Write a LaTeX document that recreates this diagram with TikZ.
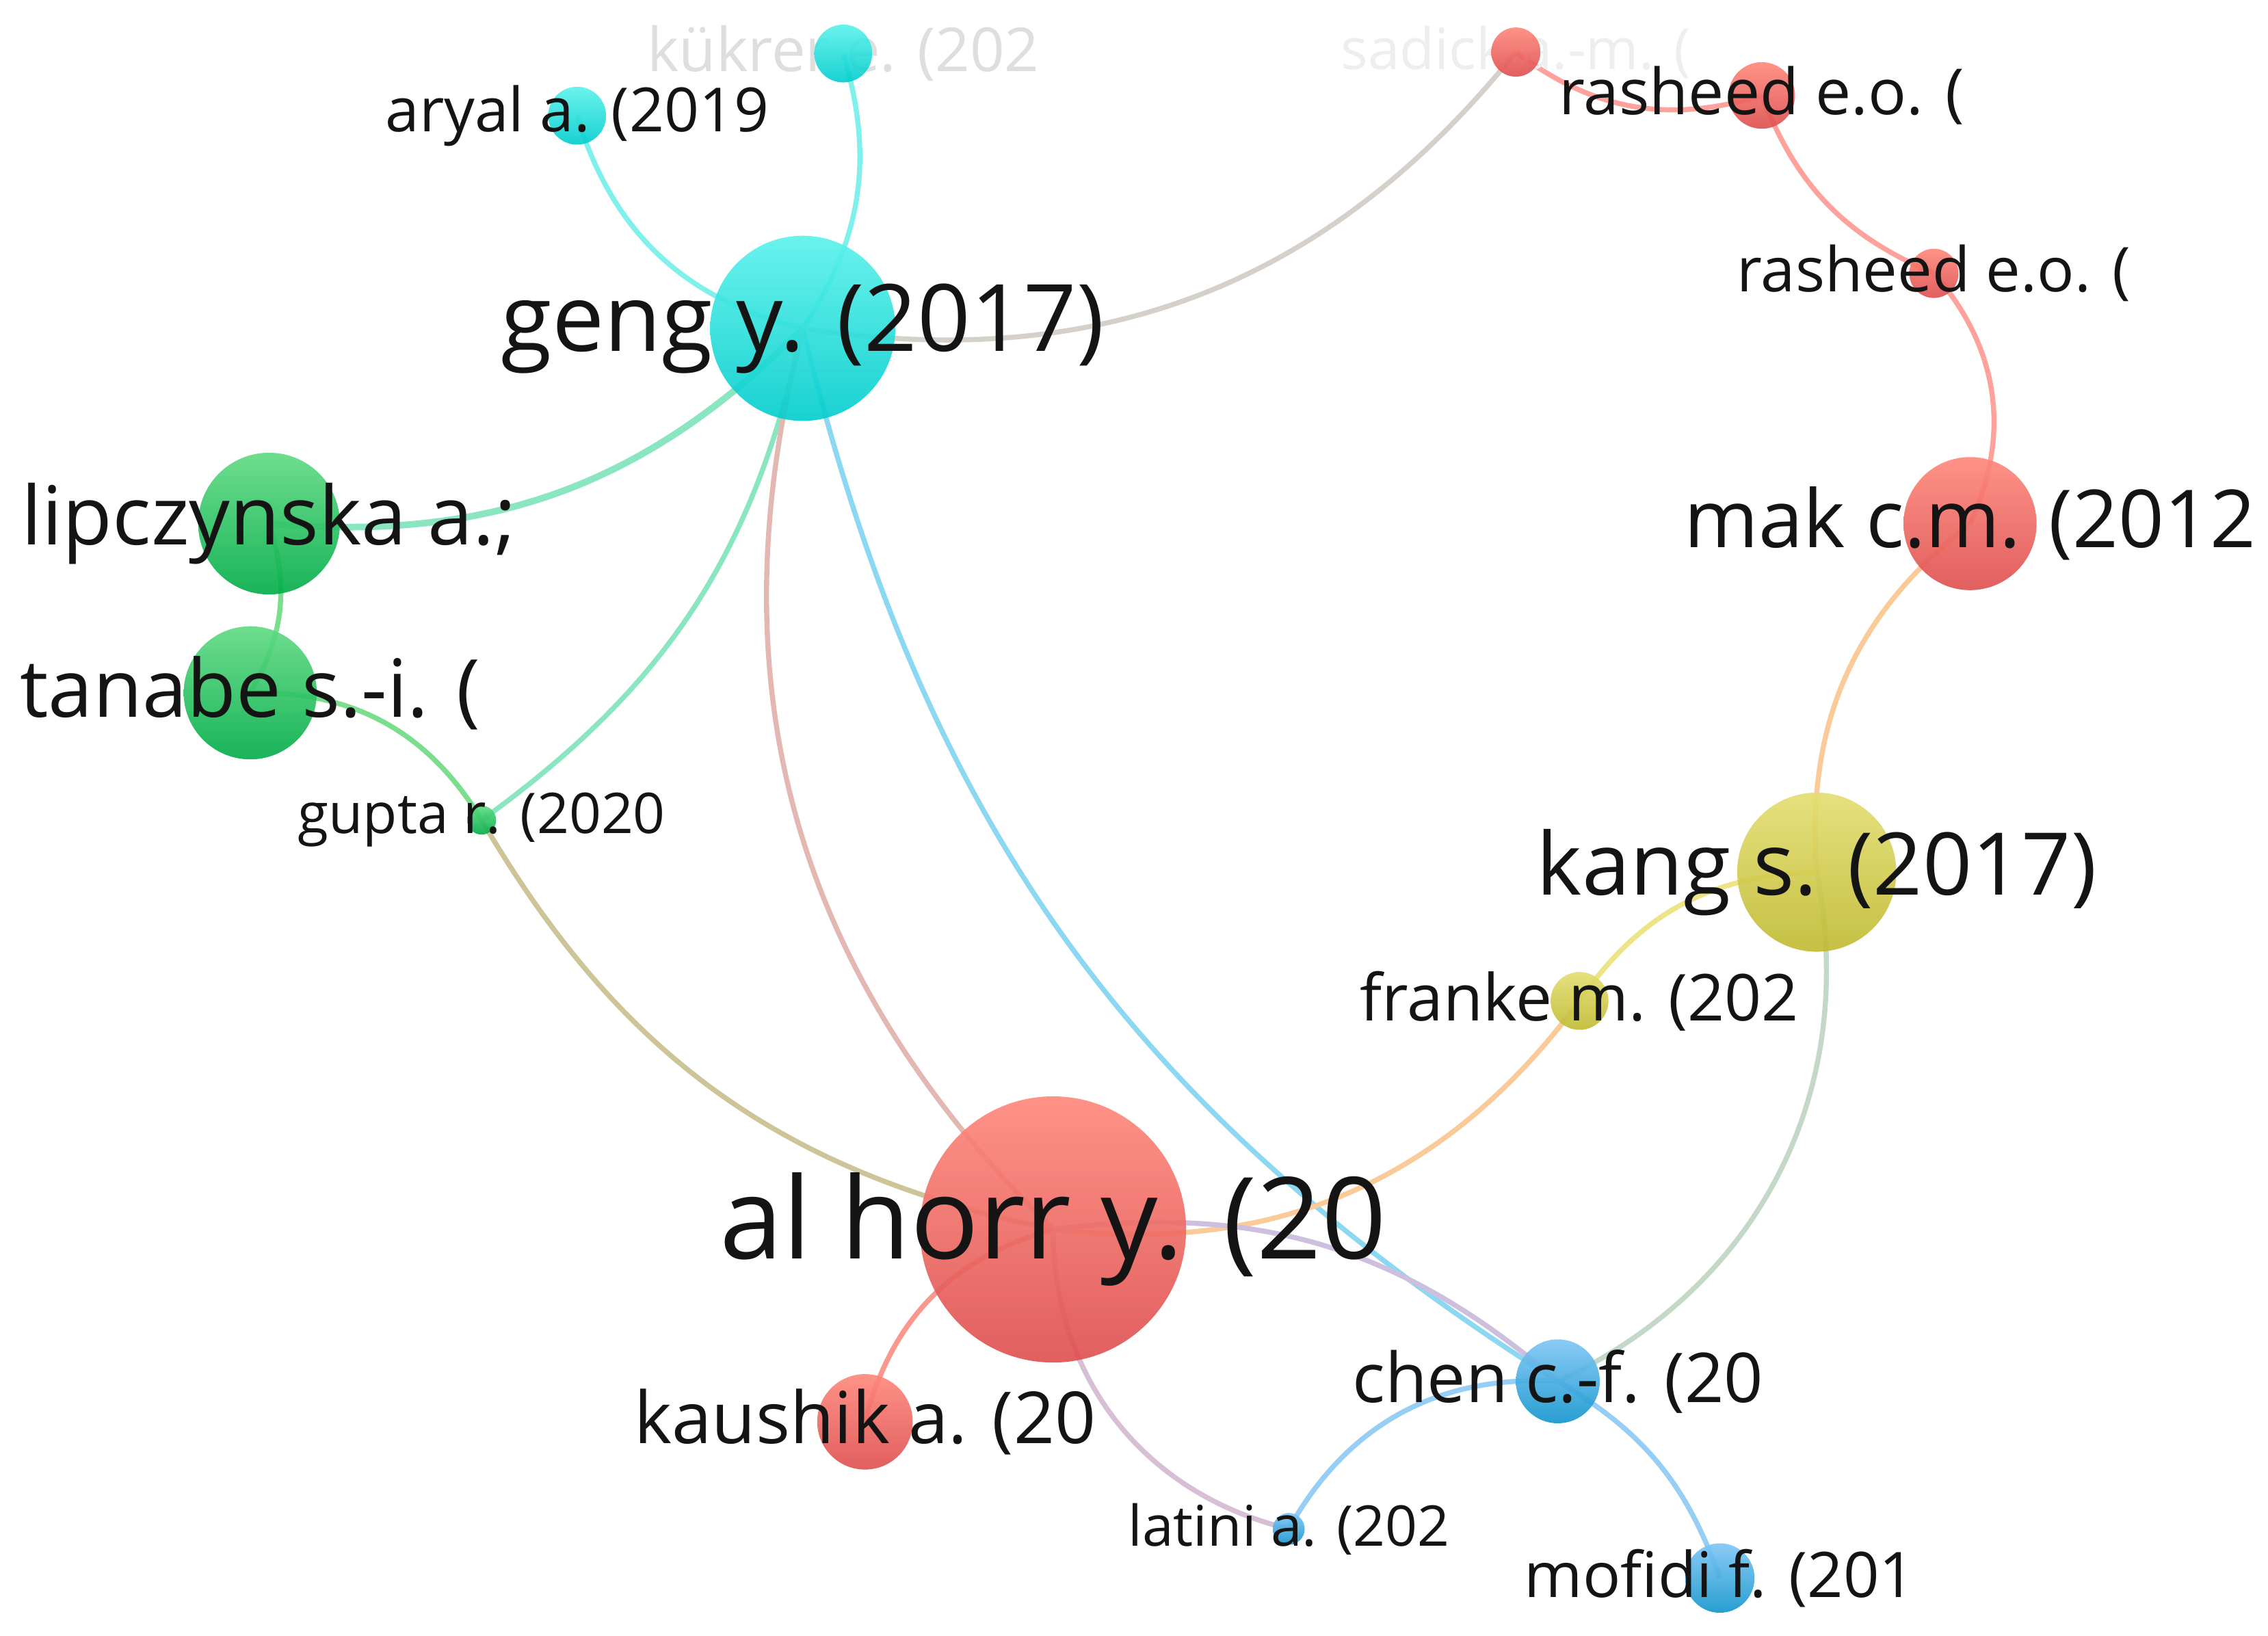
\documentclass[tikz,border=0pt]{standalone}
\usepackage{fontspec}
\setmainfont{Open Sans}
\usepackage{graphicx}
\pgfdeclarelayer{edgel}\pgfdeclarelayer{fadel}\pgfdeclarelayer{labl}
\pgfsetlayers{edgel,fadel,main,labl}
\definecolor{rT}{RGB}{255,135,122}\definecolor{rB}{RGB}{222,78,78}
\definecolor{cT}{RGB}{90,242,236}\definecolor{cB}{RGB}{0,205,205}
\definecolor{gT}{RGB}{95,218,130}\definecolor{gB}{RGB}{0,172,72}
\definecolor{yT}{RGB}{228,222,112}\definecolor{yB}{RGB}{192,186,48}
\definecolor{bT}{RGB}{125,198,245}\definecolor{bB}{RGB}{18,148,205}
\definecolor{eCy}{RGB}{128,240,236}
\definecolor{eCg}{RGB}{138,230,192}
\definecolor{eCs}{RGB}{214,208,202}
\definecolor{eCa}{RGB}{228,184,178}
\definecolor{eCb}{RGB}{140,216,242}
\definecolor{eGr}{RGB}{122,222,142}
\definecolor{eGa}{RGB}{205,196,152}
\definecolor{eOr}{RGB}{250,202,152}
\definecolor{eYe}{RGB}{236,228,135}
\definecolor{eRe}{RGB}{255,162,156}
\definecolor{eKc}{RGB}{196,216,200}
\definecolor{eAc}{RGB}{205,192,222}
\definecolor{eAk}{RGB}{250,152,142}
\definecolor{eAl}{RGB}{215,192,214}
\definecolor{eBl}{RGB}{150,206,245}
\definecolor{txt}{RGB}{20,20,20}
\definecolor{fadeA}{RGB}{222,222,222}
\definecolor{fadeB}{RGB}{238,238,238}
\tikzset{
  dot/.style={circle, inner sep=0pt, minimum size=#1, draw=none, fill opacity=0.9},
  redn/.style={shade, top color=rT, bottom color=rB},
  cyan n/.style={shade, top color=cT, bottom color=cB},
  greenn/.style={shade, top color=gT, bottom color=gB},
  yelln/.style={shade, top color=yT, bottom color=yB},
  bluen/.style={shade, top color=bT, bottom color=bB},
  lbl/.style={inner sep=0pt, text=txt},
  ed/.style={line width=1.75pt},
}
\begin{document}
\begin{tikzpicture}[x=0.5pt,y=0.5pt]
\useasboundingbox (0,0) rectangle (1568,1131);
% nodes
\node[dot=64pt, cyan n] (geng) at (555,904) {};
\node[dot=92pt, redn] (alhorr) at (728,281) {};
\node[dot=55pt, yelln] (kang) at (1256,528) {};
\node[dot=46pt, redn] (mak) at (1362,769) {};
\node[dot=49pt, greenn] (lip) at (186,769) {};
\node[dot=46pt, greenn] (tanabe) at (173,652) {};
\node[dot=10pt, greenn] (gupta) at (333,564) {};
\node[dot=20pt, cyan n] (aryal) at (399,1051) {};
\node[dot=20pt, cyan n] (kukrer) at (583,1094) {};
\node[dot=17pt, redn] (sadick) at (1048,1095) {};
\node[dot=23pt, redn] (ras1) at (1218,1065) {};
\node[dot=17pt, redn] (ras2) at (1337,942) {};
\node[dot=20pt, yelln] (franke) at (1092,439) {};
\node[dot=29pt, bluen] (chen) at (1077,176) {};
\node[dot=33pt, redn] (kaushik) at (598,148) {};
\node[dot=11pt, bluen] (latini) at (891,74) {};
\node[dot=24pt, bluen] (mofidi) at (1189,40) {};
% edges
\begin{pgfonlayer}{edgel}
\fill[white] (0,0) rectangle (1568,1131);
\draw[ed, eCy] (geng.center) to[bend left=30] (aryal.center);
\draw[ed, eCy] (geng.center) to[bend right=25] (kukrer.center);
\draw[ed, eCs] (geng.center) to[bend right=30] (sadick.center);
\draw[ed, eCg, line width=2.3pt] (geng.center) to[bend left=25] (lip.center);
\draw[ed, eCg] (geng.center) to[bend left=21] (gupta.center);
\draw[ed, eCa] (geng.center) to[bend right=30] (alhorr.center);
\draw[ed, eCb] (geng.center) to[bend right=22] (chen.center);
\draw[ed, eGr] (lip.center) to[bend left=24] (tanabe.center);
\draw[ed, eGr] (tanabe.center) to[bend left=30] (gupta.center);
\draw[ed, eGa] (gupta.center) to[bend right=24] (alhorr.center);
\draw[ed, eOr] (alhorr.center) to[bend right=30] (franke.center);
\draw[ed, eYe] (franke.center) to[bend left=27] (kang.center);
\draw[ed, eOr] (kang.center) to[bend left=28] (mak.center);
\draw[ed, eRe] (mak.center) to[bend right=33] (ras2.center);
\draw[ed, eRe] (ras2.center) to[bend left=23] (ras1.center);
\draw[ed, eRe] (sadick.center) to[bend right=27] (ras1.center);
\draw[ed, eKc] (kang.center) to[bend left=38] (chen.center);
\draw[ed, eAc] (alhorr.center) to[bend left=24] (chen.center);
\draw[ed, eAk] (kaushik.center) to[bend left=30] (alhorr.center);
\draw[ed, eAl] (alhorr.center) to[bend right=38] (latini.center);
\draw[ed, eBl] (chen.center) to[bend right=32] (latini.center);
\draw[ed, eBl] (chen.center) to[bend left=20] (mofidi.center);
\end{pgfonlayer}
% faded labels behind nodes
\begin{pgfonlayer}{fadel}
\node[lbl, text=fadeA] (kukrer-t) at (kukrer) {\resizebox{135.5pt}{!}{kükrer e. (202}};
\node[lbl, text=fadeB] (sadick-t) at (sadick) {\resizebox{121pt}{!}{sadick a.-m. (}};
\end{pgfonlayer}
% labels
\begin{pgfonlayer}{labl}
\node[lbl] (geng-t) at (geng) {\resizebox{208.5pt}{!}{geng y. (2017)}};
\node[lbl] (alhorr-t) at (alhorr) {\resizebox{230.5pt}{!}{al horr y. (20}};
\node[lbl] (kang-t) at (kang) {\resizebox{193.5pt}{!}{kang s. (2017)}};
\node[lbl] (mak-t) at (mak) {\resizebox{197.5pt}{!}{mak c.m. (2012}};
\node[lbl] (lip-t) at (lip) {\resizebox{171pt}{!}{lipczynska a.;}};
\node[lbl] (tanabe-t) at (tanabe) {\resizebox{159pt}{!}{tanabe s.-i. (}};
\node[lbl] (gupta-t) at (gupta) {\resizebox{127pt}{!}{gupta r. (2020}};
\node[lbl] (aryal-t) at (aryal) {\resizebox{132.5pt}{!}{aryal a. (2019}};
\node[lbl] (ras1-t) at (ras1) {\resizebox{140pt}{!}{rasheed e.o. (}};
\node[lbl] (ras2-t) at (ras2) {\resizebox{136pt}{!}{rasheed e.o. (}};
\node[lbl] (franke-t) at (franke) {\resizebox{151.5pt}{!}{franke m. (202}};
\node[lbl] (chen-t) at (chen) {\resizebox{142pt}{!}{chen c.-f. (20}};
\node[lbl] (kaushik-t) at (kaushik) {\resizebox{159.5pt}{!}{kaushik a. (20}};
\node[lbl] (latini-t) at (latini) {\resizebox{111pt}{!}{latini a. (202}};
\node[lbl] (mofidi-t) at (mofidi) {\resizebox{135pt}{!}{mofidi f. (201}};
\end{pgfonlayer}
\end{tikzpicture}
\end{document}
